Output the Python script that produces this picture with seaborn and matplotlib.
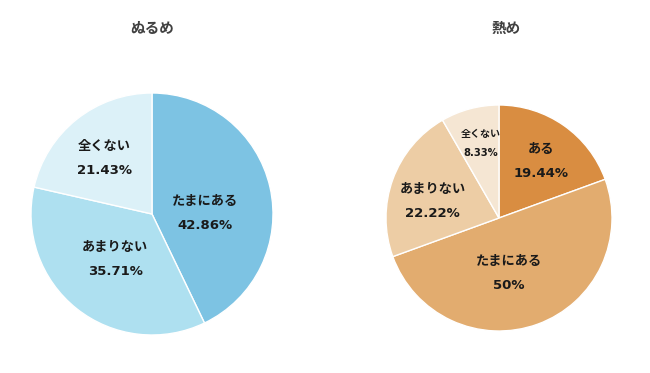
import matplotlib
matplotlib.use("Agg")
import matplotlib.pyplot as plt
import seaborn as sns

sns.set_theme(style="white")
# DejaVu for the digits (wide like the original), Noto CJK for kana/kanji
plt.rcParams['font.family'] = ['DejaVu Sans', 'Noto Sans CJK JP']

# data
nurume_labels = ['たまにある', 'あまりない', '全くない']
nurume_values = [42.86, 35.71, 21.43]
nurume_colors = sns.color_palette(['#7DC3E3', '#AEE0F0', '#DCF1F8'])

atsume_labels = ['ある', 'たまにある', 'あまりない', '全くない']
atsume_values = [19.44, 50, 22.22, 8.33]
atsume_colors = sns.color_palette(['#D98D41', '#E2AC6F', '#EDCDA5', '#F5E6D3'])

W, H = 650, 373
fig = plt.figure(figsize=(W / 100, H / 100), dpi=100)


def pct_text(v):
    s = f"{v:.2f}".rstrip('0').rstrip('.')
    return s + '%'


def draw_pie(cx, cy, r, title, title_x, labels, values, colors, nudges, small=()):
    ax = fig.add_axes([(cx - r) / W, (H - cy - r) / H, 2 * r / W, 2 * r / H])
    wedges, texts = ax.pie(values, colors=colors, startangle=90, counterclock=False,
                           radius=1, wedgeprops=dict(edgecolor='white', linewidth=1),
                           labels=[f"{l}\n\n{pct_text(v)}" for l, v in zip(labels, values)],
                           labeldistance=0.52)
    for i, t in enumerate(texts):
        x, y = t.get_position()
        t.set_position((x + nudges[i][0], y + nudges[i][1]))
        t.set_ha('center')
        t.set_va('center')
        t.set_fontweight('bold')
        t.set_color('#1a1a1a')
        t.set_linespacing(0.9 if i not in small else 0.95)
        t.set_fontsize(7.2 if i in small else 9.5)
    ax.set_xlim(-1, 1)
    ax.set_ylim(-1, 1)
    ax.set_aspect('equal')
    ax.axis('off')
    fig.text(title_x / W, 1 - 28 / H, title, ha='center', va='center',
             fontsize=10.5, fontweight='bold', color='#404040')
    return texts


draw_pie(152, 214, 121, 'ぬるめ', 152, nurume_labels, nurume_values, nurume_colors,
         [(-0.07, -0.11), (0.02, 0.03), (-0.07, 0.05)])
draw_pie(499, 218, 113, '熱め', 506, atsume_labels, atsume_values, atsume_colors,
         [(0.07, 0.07), (-0.09, 0.0), (-0.1, -0.03), (-0.03, 0.16)], small=(3,))

fig.savefig('out.png', dpi=100, facecolor='white')
